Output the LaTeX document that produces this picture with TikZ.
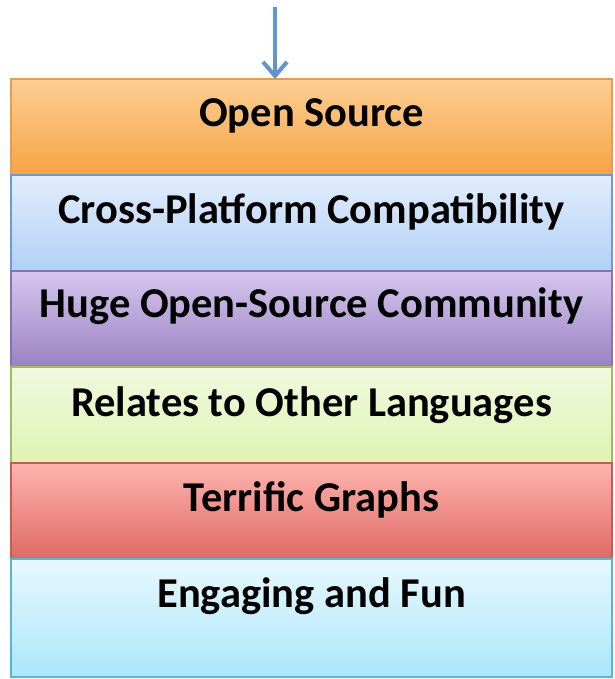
\documentclass[tikz,border=0pt]{standalone}
\usepackage{fontspec}
\setmainfont{Carlito}
\usetikzlibrary{arrows.meta}
\definecolor{arrowblue}{HTML}{5F97CD}
\definecolor{orT}{HTML}{FDCE93}\definecolor{orB}{HTML}{F6A443}\definecolor{orD}{HTML}{E0A050}
\definecolor{blT}{HTML}{E3EDFC}\definecolor{blB}{HTML}{B1D0F6}\definecolor{blD}{HTML}{6D9AD2}
\definecolor{puT}{HTML}{D6C6EE}\definecolor{puB}{HTML}{9A82C2}\definecolor{puD}{HTML}{8A72AF}
\definecolor{grT}{HTML}{F1F9DF}\definecolor{grB}{HTML}{DEF4B3}\definecolor{grD}{HTML}{9DBD5E}
\definecolor{reT}{HTML}{FFB4B0}\definecolor{reB}{HTML}{DE6964}\definecolor{reD}{HTML}{C85A55}
\definecolor{cyT}{HTML}{E8F8FE}\definecolor{cyB}{HTML}{ABE7FA}\definecolor{cyD}{HTML}{57B6D4}
\tikzset{
  band/.style={draw=#1D, line width=1.2pt, top color=#1T, bottom color=#1B},
  lbl/.style={font=\bfseries\fontsize{42.5}{46}\selectfont, anchor=base, inner sep=0pt},
  flow/.style={draw=arrowblue, line width=4pt, -{Straight Barb[length=14pt,width=24pt]}}
}
\begin{document}
\begin{tikzpicture}[x=1pt,y=-1pt]
\useasboundingbox (0,0) rectangle (614,679);
\path[band=or] (11,79) rectangle (612,175);
\path[band=bl] (11,175) rectangle (612,271);
\path[band=pu] (11,271) rectangle (612,367);
\path[band=gr] (11,367) rectangle (612,463);
\path[band=re] (11,463) rectangle (612,559);
\path[band=cy] (11,559) rectangle (612,677);
\node[lbl] (t1) at (311.5,127) {Open Source};
\node[lbl] (t2) at (311.5,223) {Cross-Platform Compatibility};
\node[lbl] (t3) at (311.5,317) {Huge Open-Source Community};
\node[lbl] (t4) at (311.5,416) {Relates to Other Languages};
\node[lbl] (t5) at (311.5,511) {Terrific Graphs};
\node[lbl] (t6) at (311.5,607) {Engaging and Fun};
\coordinate (src) at (275,7);
\coordinate (dst) at (275,79);
\draw[flow] (src) -- (dst);
\end{tikzpicture}
\end{document}
